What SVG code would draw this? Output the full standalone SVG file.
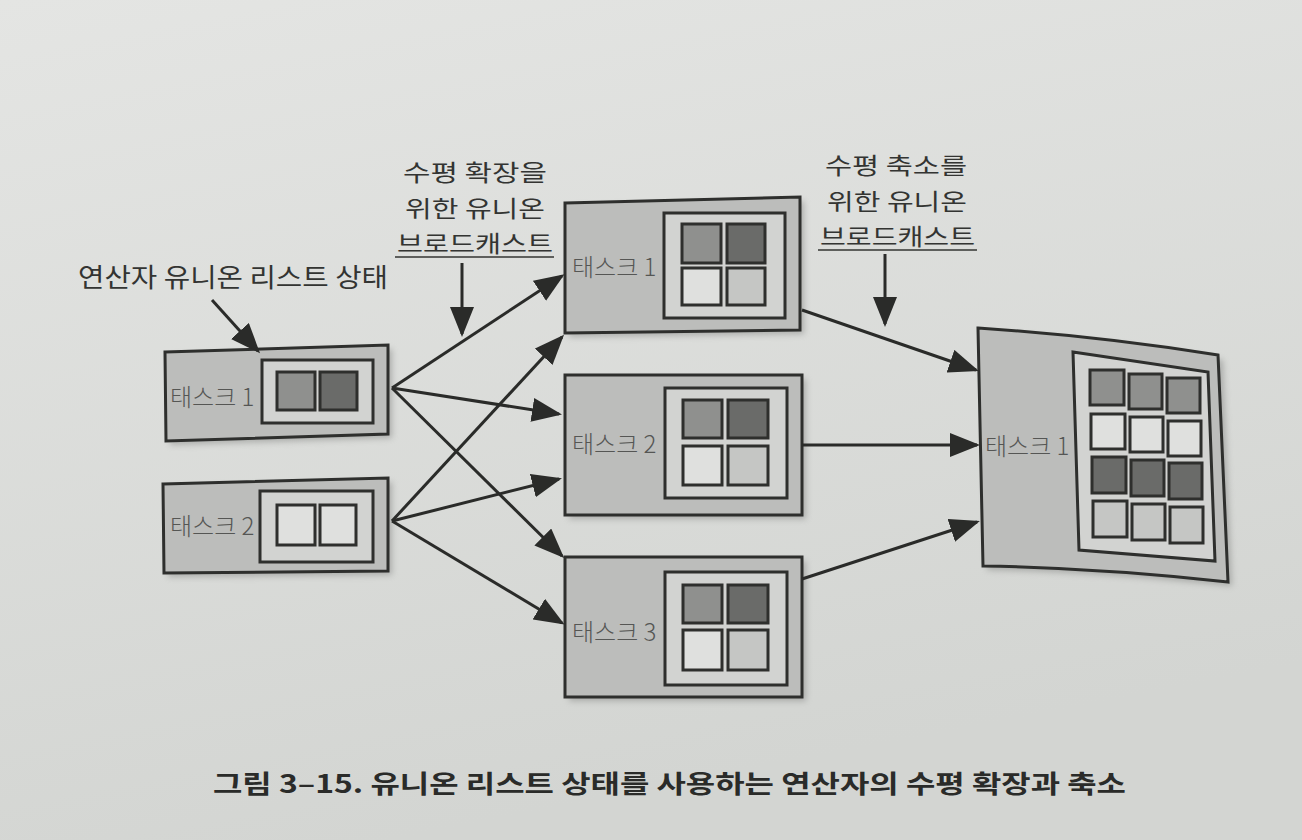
<svg xmlns="http://www.w3.org/2000/svg" width="1302" height="840" viewBox="0 0 1302 840">
<defs>
<linearGradient id="bg" x1="0" y1="0" x2="0.3" y2="1">
<stop offset="0" stop-color="#e4e5e3"/>
<stop offset="1" stop-color="#d3d5d2"/>
</linearGradient>
<marker id="ah" markerWidth="10" markerHeight="8" refX="9" refY="4" orient="auto" markerUnits="strokeWidth">
<path d="M0,0 L10,4 L0,8 Z" fill="#2a2b29"/>
</marker>
<filter id="sh" x="-10%" y="-10%" width="130%" height="130%">
<feGaussianBlur stdDeviation="3"/>
</filter>
</defs>
<style>
.outer{fill:#bcbdbb;stroke:#2e2f2d;stroke-width:3}
.inner{fill:#d2d3d1;stroke:#2e2f2d;stroke-width:3}
.sh{fill:#7e7f7d;opacity:0.5;filter:url(#sh)}
.m{fill:#8f908e;stroke:#2e2f2d;stroke-width:3}
.d{fill:#6a6b69;stroke:#2e2f2d;stroke-width:3}
.l{fill:#dfe0de;stroke:#2e2f2d;stroke-width:3}
.lm{fill:#c5c6c4;stroke:#2e2f2d;stroke-width:3}
.lbl{font-family:"Noto Sans CJK KR","Noto Sans",sans-serif;font-size:24px;fill:#555654;font-weight:300}
.ann{font-family:"Noto Sans CJK KR","Noto Sans",sans-serif;font-size:26px;fill:#333432}
.ann2{font-family:"Noto Sans CJK KR","Noto Sans",sans-serif;font-size:23px;fill:#333432}
.cap{font-family:"Noto Sans CJK KR","Noto Sans",sans-serif;font-size:25px;fill:#2a2b29;font-weight:bold}
.con{stroke:#2a2b29;stroke-width:3;fill:none;marker-end:url(#ah)}
.ul{stroke:#333432;stroke-width:1.5}
</style>
<rect width="1302" height="840" fill="url(#bg)"/>

<g id="left-task1">
<polygon class="sh" points="169,356 392,349 392,438 170,445"/>
<polygon class="outer" points="165,352 388,345 388,434 166,441"/>
<rect class="inner" x="262" y="360" width="111" height="63"/>
<rect class="m" x="277" y="372" width="38" height="38"/>
<rect class="d" x="320" y="372" width="37" height="38"/>
<text class="lbl" x="170" y="406">태스크 1</text>
</g>

<g id="left-task2">
<polygon class="sh" points="167,488 392,482 392,575 168,577"/>
<polygon class="outer" points="163,484 388,478 388,571 164,573"/>
<rect class="inner" x="260" y="491" width="113" height="71"/>
<rect class="l" x="277" y="505" width="38" height="40"/>
<rect class="l" x="320" y="505" width="36" height="40"/>
<text class="lbl" x="170" y="535">태스크 2</text>
</g>

<g id="mid-task1">
<polygon class="sh" points="569,207 804,201 804,334 569,337"/>
<polygon class="outer" points="565,203 800,197 800,330 565,333"/>
<rect class="inner" x="664" y="213" width="121" height="105"/>
<rect class="m" x="682" y="224" width="39" height="39"/>
<rect class="d" x="727" y="224" width="38" height="39"/>
<rect class="l" x="682" y="268" width="39" height="37"/>
<rect class="lm" x="727" y="268" width="38" height="37"/>
<text class="lbl" x="572" y="276">태스크 1</text>
</g>

<g id="mid-task2">
<polygon class="sh" points="569,379 806,379 806,519 569,519"/>
<rect class="outer" x="565" y="375" width="237" height="140"/>
<rect class="inner" x="665" y="388" width="122" height="110"/>
<rect class="m" x="683" y="400" width="39" height="38"/>
<rect class="d" x="728" y="400" width="40" height="38"/>
<rect class="l" x="683" y="446" width="39" height="39"/>
<rect class="lm" x="728" y="446" width="40" height="39"/>
<text class="lbl" x="572" y="453">태스크 2</text>
</g>

<g id="mid-task3">
<polygon class="sh" points="569,561 806,561 806,701 569,701"/>
<rect class="outer" x="565" y="557" width="237" height="140"/>
<rect class="inner" x="665" y="572" width="122" height="113"/>
<rect class="m" x="683" y="585" width="39" height="38"/>
<rect class="d" x="728" y="585" width="40" height="38"/>
<rect class="l" x="683" y="630" width="39" height="40"/>
<rect class="lm" x="728" y="630" width="40" height="40"/>
<text class="lbl" x="572" y="641">태스크 3</text>
</g>

<g id="right-task1">
<path class="sh" d="M983,333 Q1100,340 1223,360 L1232,586 Q1100,572 987,570 Z"/>
<path class="outer" d="M978,328 Q1100,336 1218,355 L1228,582 Q1100,568 983,566 Z"/>
<polygon class="inner" points="1073,352 1208,372 1215,561 1079,550"/>
<rect class="m" x="1090" y="370" width="34" height="35"/>
<rect class="m" x="1129" y="374" width="33" height="35"/>
<rect class="m" x="1167" y="378" width="33" height="35"/>
<rect class="l" x="1091" y="414" width="34" height="35"/>
<rect class="l" x="1130" y="417" width="33" height="35"/>
<rect class="l" x="1168" y="421" width="33" height="35"/>
<rect class="d" x="1092" y="457" width="34" height="36"/>
<rect class="d" x="1131" y="460" width="33" height="36"/>
<rect class="d" x="1169" y="463" width="33" height="36"/>
<rect class="lm" x="1093" y="501" width="34" height="36"/>
<rect class="lm" x="1132" y="504" width="33" height="36"/>
<rect class="lm" x="1170" y="507" width="33" height="36"/>
<text class="lbl" x="985" y="455">태스크 1</text>
</g>

<g id="annotations">
<text class="ann" x="78" y="287" textLength="310" lengthAdjust="spacingAndGlyphs">연산자 유니온 리스트 상태</text>
<text class="ann2" x="403" y="181" textLength="144" lengthAdjust="spacingAndGlyphs">수평 확장을</text>
<text class="ann2" x="405" y="217" textLength="140" lengthAdjust="spacingAndGlyphs">위한 유니온</text>
<text class="ann2" x="397" y="252" textLength="156" lengthAdjust="spacingAndGlyphs">브로드캐스트</text>
<line class="ul" x1="395" y1="257" x2="554" y2="257"/>
<text class="ann2" x="825" y="174" textLength="142" lengthAdjust="spacingAndGlyphs">수평 축소를</text>
<text class="ann2" x="827" y="210" textLength="140" lengthAdjust="spacingAndGlyphs">위한 유니온</text>
<text class="ann2" x="820" y="245" textLength="155" lengthAdjust="spacingAndGlyphs">브로드캐스트</text>
<line class="ul" x1="818" y1="250" x2="977" y2="250"/>
</g>

<g id="connectors">
<line class="con" x1="212" y1="300" x2="258" y2="351"/>
<line class="con" x1="462" y1="263" x2="462" y2="334"/>
<line class="con" x1="885" y1="254" x2="885" y2="324"/>
<line class="con" x1="392" y1="388" x2="562" y2="276"/>
<line class="con" x1="392" y1="388" x2="559" y2="414"/>
<line class="con" x1="392" y1="388" x2="562" y2="556"/>
<line class="con" x1="392" y1="521" x2="562" y2="337"/>
<line class="con" x1="392" y1="521" x2="559" y2="479"/>
<line class="con" x1="392" y1="521" x2="562" y2="623"/>
<line class="con" x1="802" y1="310" x2="976" y2="370"/>
<line class="con" x1="802" y1="445" x2="977" y2="445"/>
<line class="con" x1="802" y1="579" x2="977" y2="522"/>
</g>

<text class="cap" x="213" y="793" textLength="913" lengthAdjust="spacingAndGlyphs">그림 3–15. 유니온 리스트 상태를 사용하는 연산자의 수평 확장과 축소</text>
</svg>
